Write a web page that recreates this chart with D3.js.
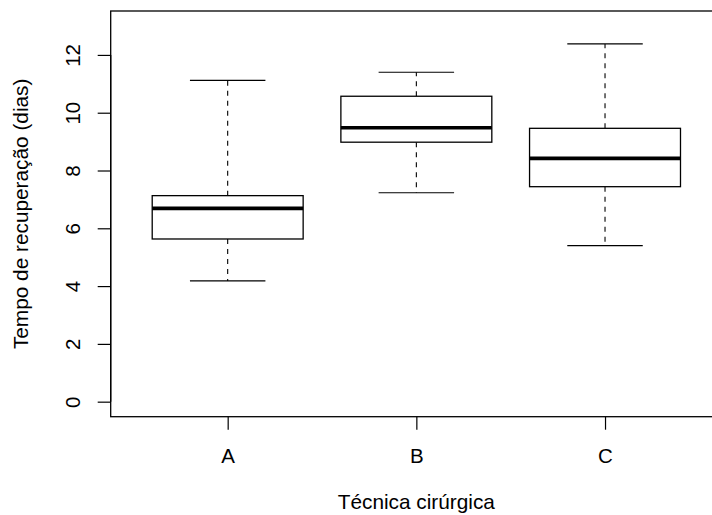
<!DOCTYPE html>
<html>
<head>
<meta charset="utf-8">
<script src="https://cdn.jsdelivr.net/npm/d3@7"></script>
<style>
  body { margin: 0; background: #fff; }
  svg { display: block; font-family: "Liberation Sans", Arial, Helvetica, sans-serif; }
</style>
</head>
<body>
<div id="boxChart"></div>
<script>
// values (days)
var categories = ["A", "B", "C"];
var whiskerLow = [4.18, 7.23, 5.40];
var quartile1 = [5.63, 8.98, 7.44];
var medians = [6.69, 9.48, 8.42];
var quartile3 = [7.13, 10.57, 9.46];
var whiskerHigh = [11.12, 11.40, 12.38];
var yTicks = [0, 2, 4, 6, 8, 10, 12];

function boxChart() {
  var width = 712,
      height = 515;
  var svg = d3.select("#boxChart")
              .append("svg")
              .attr("width", width)
              .attr("height", height);

  // R style ranges: 0.5..3.5 and 0..13, both padded by 4%
  var x = d3.scaleLinear().domain([0.38, 3.62]).range([110.7, 722]);
  var y = d3.scaleLinear().domain([-0.52, 13.52]).range([416.7, 11]);

  var data = categories.map(function(c, i) {
    return { pos: i + 1, name: c, lo: whiskerLow[i], q1: quartile1[i],
             med: medians[i], q3: quartile3[i], hi: whiskerHigh[i] };
  });

  var g = svg.selectAll(".box")
             .data(data)
             .enter().append("g")
             .attr("class", "box");

  // dashed whiskers
  g.append("line")
   .attr("x1", function(d) { return x(d.pos); })
   .attr("x2", function(d) { return x(d.pos); })
   .attr("y1", function(d) { return y(d.q3); })
   .attr("y2", function(d) { return y(d.hi); })
   .attr("stroke", "#000").attr("stroke-width", 1.1)
   .attr("stroke-dasharray", "5,5");
  g.append("line")
   .attr("x1", function(d) { return x(d.pos); })
   .attr("x2", function(d) { return x(d.pos); })
   .attr("y1", function(d) { return y(d.q1); })
   .attr("y2", function(d) { return y(d.lo); })
   .attr("stroke", "#000").attr("stroke-width", 1.1)
   .attr("stroke-dasharray", "5,5");

  // staples
  ["lo", "hi"].forEach(function(k) {
    g.append("line")
     .attr("x1", function(d) { return x(d.pos - 0.2); })
     .attr("x2", function(d) { return x(d.pos + 0.2); })
     .attr("y1", function(d) { return y(d[k]); })
     .attr("y2", function(d) { return y(d[k]); })
     .attr("stroke", "#000").attr("stroke-width", 1.2);
  });

  // boxes
  g.append("rect")
   .attr("x", function(d) { return x(d.pos - 0.4); })
   .attr("width", function(d) { return x(d.pos + 0.4) - x(d.pos - 0.4); })
   .attr("y", function(d) { return y(d.q3); })
   .attr("height", function(d) { return y(d.q1) - y(d.q3); })
   .attr("fill", "#fff")
   .attr("stroke", "#000").attr("stroke-width", 1.3);

  // medians
  g.append("line")
   .attr("x1", function(d) { return x(d.pos - 0.4); })
   .attr("x2", function(d) { return x(d.pos + 0.4); })
   .attr("y1", function(d) { return y(d.med); })
   .attr("y2", function(d) { return y(d.med); })
   .attr("stroke", "#000").attr("stroke-width", 3.6);

  // plot frame (right side falls off the page, as in the original)
  svg.append("rect")
     .attr("x", x(0.38)).attr("y", y(13.52))
     .attr("width", x(3.62) - x(0.38))
     .attr("height", y(-0.52) - y(13.52))
     .attr("fill", "none")
     .attr("stroke", "#000").attr("stroke-width", 1.3);

  // y axis
  var yAxis = svg.append("g")
     .attr("transform", "translate(" + x(0.38) + ",0)")
     .call(d3.axisLeft(y).tickValues(yTicks).tickSize(13).tickSizeOuter(0)
                         .tickFormat(d3.format("d")));
  yAxis.select(".domain").attr("d", "M0," + y(0) + "V" + y(12)).attr("stroke-width", 1.3);
  yAxis.selectAll(".tick line").attr("stroke-width", 1.2);
  yAxis.selectAll(".tick text")
       .attr("x", null).attr("dy", null)
       .attr("transform", "translate(-30.7,0) rotate(-90)")
       .attr("text-anchor", "middle")
       .attr("font-size", 20.5)
       .attr("font-family", "Liberation Sans, Arial, sans-serif")
       .attr("fill", "#000");

  // x axis
  var xAxis = svg.append("g")
     .attr("transform", "translate(0," + y(-0.52) + ")")
     .call(d3.axisBottom(x).tickValues([1, 2, 3]).tickSize(13).tickSizeOuter(0)
                           .tickFormat(function(d) { return categories[d - 1]; }));
  xAxis.select(".domain").remove();
  xAxis.selectAll(".tick line").attr("stroke-width", 1.2);
  xAxis.selectAll(".tick text")
       .attr("y", 46).attr("dy", null)
       .attr("font-size", 20.5)
       .attr("font-family", "Liberation Sans, Arial, sans-serif")
       .attr("fill", "#000");

  // axis titles
  svg.append("text")
     .attr("x", x(2)).attr("y", 509)
     .attr("text-anchor", "middle")
     .attr("font-size", 20.8)
     .text("Técnica cirúrgica");

  svg.append("text")
     .attr("transform", "translate(28," + ((y(13.52) + y(-0.52)) / 2) + ") rotate(-90)")
     .attr("text-anchor", "middle")
     .attr("font-size", 20.8)
     .text("Tempo de recuperação (dias)");
}

boxChart();
</script>
</body>
</html>
